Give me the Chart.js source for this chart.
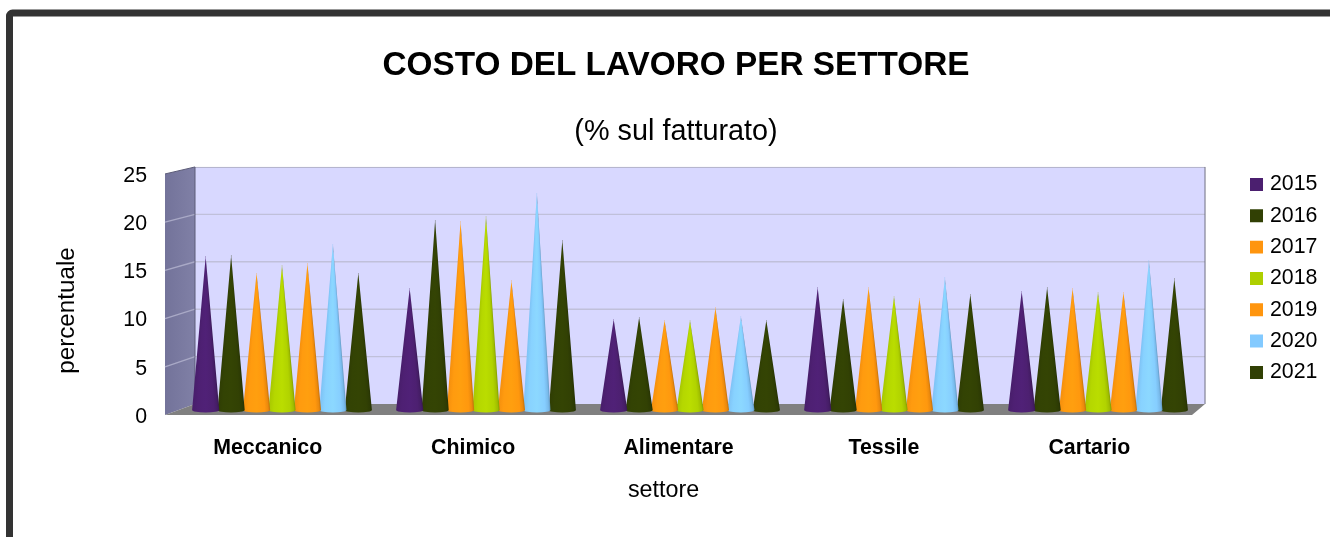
<!DOCTYPE html>
<html><head><meta charset="utf-8">
<style>html,body{margin:0;padding:0;background:#fff;overflow:hidden}canvas{display:block}</style>
<script src="https://cdn.jsdelivr.net/npm/chart.js@4"></script>
</head><body>
<canvas id="c" width="1330" height="537"></canvas>
<script>
const categories = ["Meccanico","Chimico","Alimentare","Tessile","Cartario"];
const years = ["2015","2016","2017","2018","2019","2020","2021"];
const colors = ["#4b1f6f","#314004","#ff950e","#aecf00","#ff950e","#83caff","#314004"];
const v2015 = [15.9,12.6,9.4,12.7,12.3];
const v2016 = [16.0,19.7,9.6,11.5,12.7];
const v2017 = [14.2,19.5,9.3,12.7,12.6];
const v2018 = [15.0,20.1,9.3,11.8,12.2];
const v2019 = [15.2,13.4,10.6,11.6,12.2];
const v2020 = [17.2,22.5,9.7,13.7,15.5];
const v2021 = [14.2,17.6,9.3,12.0,13.6];
const series = [v2015,v2016,v2017,v2018,v2019,v2020,v2021];
const yTicks = [0,5,10,15,20,25];

const FONT = "'Liberation Sans', Arial, sans-serif";
const BarController = Chart.BarController, BarElement = Chart.BarElement;
let plotArea = null;

function shade(hex,f){
  const n=parseInt(hex.slice(1),16);
  const c=[n>>16&255,n>>8&255,n&255].map(v=>Math.max(0,Math.min(255,Math.round(v*f))));
  return `rgb(${c[0]},${c[1]},${c[2]})`;
}
const STOPS=[[0,.96],[.2,1.04],[.5,1.07],[.8,1.02],[.93,.92],[1,.76]];
function coneGradient(ctx,x0,x1,col){
  const g=ctx.createLinearGradient(x0,0,x1,0);
  STOPS.forEach(s=>g.addColorStop(s[0],shade(col,s[1])));
  return g;
}
class ConeElement extends BarElement {
  draw(ctx){
    const {x,y,base,width}=this.getProps(['x','y','base','width']);
    const area=plotArea;
    const X=area.left+15+(x-area.left)*(1019/1026);
    const by=base-5, ty=y-5, r=width*0.53, ry=2.6;
    const col=this.options.backgroundColor;
    ctx.save();
    ctx.fillStyle=coneGradient(ctx,X-r,X+r,col);
    ctx.beginPath();ctx.ellipse(X,by,r,ry,0,0,Math.PI);ctx.closePath();ctx.fill();
    const h=by-ty;
    for(let yy=Math.floor(ty);yy<by;yy++){
      const w=Math.max(0.15,r*(yy+0.5-ty)/h);
      ctx.fillStyle=coneGradient(ctx,X-w,X+w,col);
      ctx.fillRect(X-w,yy,2*w,Math.min(1,by-yy+0.5));
    }
    ctx.restore();
  }
}
ConeElement.id='cone';
ConeElement.defaults=Object.assign({},BarElement.defaults);
ConeElement.defaultRoutes=BarElement.defaultRoutes;
class ConeController extends BarController {}
ConeController.id='cone';
ConeController.overrides=BarController.overrides;
ConeController.defaults=Object.assign({},BarController.defaults,{dataElementType:'cone'});
Chart.register(ConeElement,ConeController);

function shiftTitle(scale,dx,dy){
  if(scale.$shifted)return;
  scale.$shifted=true;
  const orig=scale.drawTitle;
  scale.drawTitle=function(){
    const c=this.ctx;c.save();c.translate(dx,dy);orig.call(this);c.restore();
  };
}

const box3d={
  id:'box3d',
  beforeDraw(chart){
    const ctx=chart.ctx, a=chart.chartArea, ys=chart.scales.y;
    plotArea=a;
    ctx.save();
    ctx.fillStyle='#fff';ctx.fillRect(0,0,chart.width,chart.height);
    ctx.strokeStyle='#333';ctx.lineWidth=7;
    ctx.beginPath();ctx.roundRect(9.5,13,1500,800,3);ctx.stroke();
    const bl=a.left+30, br=a.right+13, bt=a.top-7, bb=a.bottom-11;
    const backY=p=>bb+(p-a.bottom)*(bb-bt)/(a.bottom-a.top);
    ctx.fillStyle='#d8d8ff';ctx.fillRect(bl,bt,br-bl,bb-bt);
    const g=ctx.createLinearGradient(a.left,0,bl,0);
    g.addColorStop(0,'#73739a');g.addColorStop(1,'#8080a6');
    ctx.fillStyle=g;
    ctx.beginPath();ctx.moveTo(a.left,a.top);ctx.lineTo(bl,bt);ctx.lineTo(bl,bb);ctx.lineTo(a.left,a.bottom);ctx.closePath();ctx.fill();
    ctx.fillStyle='#808080';
    ctx.beginPath();ctx.moveTo(a.left,a.bottom);ctx.lineTo(a.right,a.bottom);ctx.lineTo(br,bb);ctx.lineTo(bl,bb);ctx.closePath();ctx.fill();
    ctx.lineWidth=1.4;
    for(const t of yTicks){
      if(t===0||t===25)continue;
      const p=ys.getPixelForValue(t), q=backY(p);
      ctx.strokeStyle='#c0c0da';ctx.beginPath();ctx.moveTo(bl,q);ctx.lineTo(br,q);ctx.stroke();
      ctx.strokeStyle='#a9a9c6';ctx.beginPath();ctx.moveTo(a.left,p);ctx.lineTo(bl,q);ctx.stroke();
    }
    ctx.lineWidth=1;
    ctx.strokeStyle='#b4b4cc';ctx.beginPath();ctx.moveTo(bl,bt+.5);ctx.lineTo(br,bt+.5);ctx.stroke();
    ctx.strokeStyle='#6e6e80';ctx.beginPath();ctx.moveTo(br,bt);ctx.lineTo(br,bb);ctx.stroke();
    ctx.strokeStyle='#5c5c78';ctx.beginPath();ctx.moveTo(bl,bt);ctx.lineTo(bl,bb);ctx.stroke();
    ctx.beginPath();ctx.moveTo(a.left,a.top);ctx.lineTo(bl,bt);ctx.stroke();
    ctx.restore();
  },
  afterLayout(chart){
    plotArea=chart.chartArea;
    const l=chart.legend, dx=1243.67-l.left, dy=163.8-l.top;
    l.left+=dx;l.right+=dx;l.top+=dy;l.bottom+=dy;
    (l.legendHitBoxes||[]).forEach(h=>{h.left+=dx;h.top+=dy;});
    chart.boxes.forEach(b=>{
      if(b.options&&b.options.text&&b.position==='top'){
        const mid=(b.left+b.right)/2, d=676-mid;
        b.left+=d;b.right+=d;
      }
    });
  }
};

new Chart(document.getElementById('c'),{
  type:'cone',
  plugins:[box3d],
  data:{
    labels:categories,
    datasets:years.map((y,i)=>({label:y,data:series[i],backgroundColor:colors[i]}))
  },
  options:{
    responsive:false,animation:false,devicePixelRatio:1,
    datasets:{cone:{categoryPercentage:0.873,barPercentage:1}},
    layout:{padding:{top:0,left:0,bottom:0,right:54.2}},
    font:{family:FONT},
    scales:{
      x:{
        afterFit(s){s.height=122;shiftTitle(s,-15,0);},
        grid:{display:false,drawTicks:false},border:{display:false},
        ticks:{color:'#000',padding:20,maxRotation:0,font:{family:FONT,size:21.33,weight:'bold'}},
        title:{display:true,text:'settore',color:'#000',font:{family:FONT,size:23.3,weight:'normal'},padding:{top:0,bottom:32}}
      },
      y:{
        min:0,max:25,
        afterFit(s){s.width=165;shiftTitle(s,53,16);},
        afterBuildTicks(s){s.ticks=yTicks.map(v=>({value:v}));},
        grid:{display:false,drawTicks:false},border:{display:false},
        ticks:{color:'#000',padding:18,labelOffset:2,font:{family:FONT,size:21.33}},
        title:{display:true,text:'percentuale',color:'#000',font:{family:FONT,size:24.2,weight:'normal'},padding:{top:0,bottom:0}}
      }
    },
    plugins:{
      tooltip:{enabled:false},
      title:{display:true,text:'COSTO DEL LAVORO PER SETTORE',color:'#000',font:{family:FONT,size:33.33,weight:'bold',lineHeight:1.2},padding:{top:45.5,bottom:14}},
      subtitle:{display:true,text:'(% sul fatturato)',color:'#000',font:{family:FONT,size:28.8,weight:'normal',lineHeight:1.2},padding:{top:15.3,bottom:24.6}},
      legend:{
        position:'right',align:'start',
        labels:{
          color:'#000',padding:10,boxWidth:5.67,boxHeight:5.67,
          font:{family:FONT,size:21.33},
          generateLabels(chart){
            return chart.data.datasets.map((d,i)=>({text:d.label,fillStyle:d.backgroundColor,strokeStyle:d.backgroundColor,lineWidth:7.33,datasetIndex:i,hidden:false}));
          }
        }
      }
    }
  }
});
</script>
</body></html>
